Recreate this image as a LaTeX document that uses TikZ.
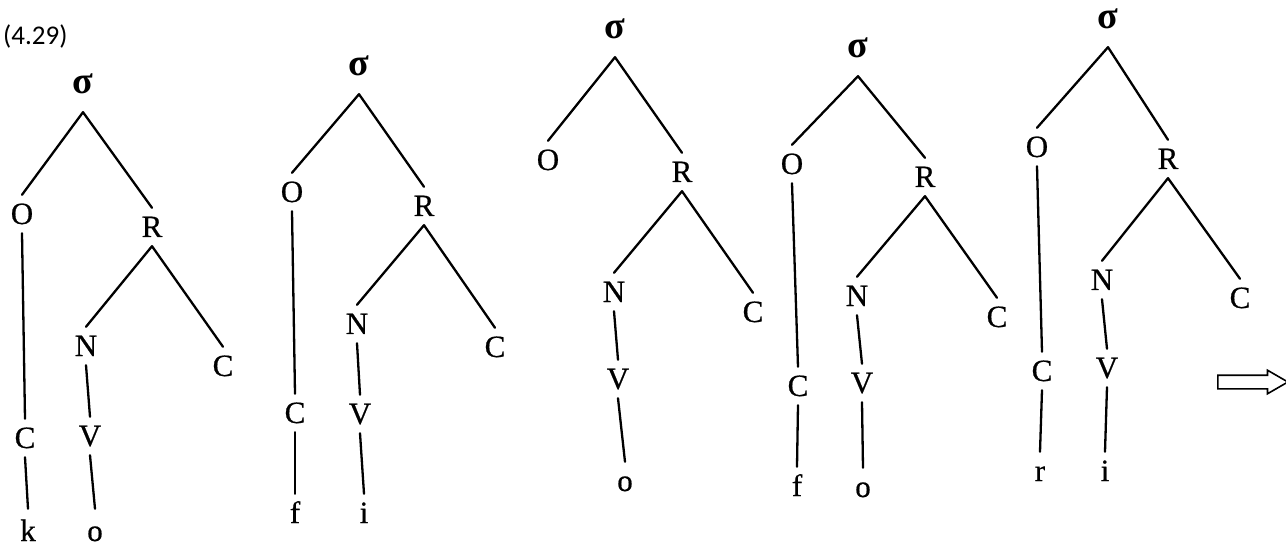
\documentclass[tikz,border=0pt]{standalone}
\usepackage{fontspec}
\setmainfont{Liberation Serif}
\newfontfamily\carl{Carlito}
\newfontfamily\segfam{Liberation Serif}[FakeBold=0.6]
\usetikzlibrary{shapes.arrows}
\newcommand\segfont{\segfam\fontsize{31}{33}\selectfont}
\newcommand\sigfont{\fontsize{38}{40}\selectfont\bfseries}
\tikzset{
  seg/.style={font=\segfont, text height=20pt, text depth=0pt, inner xsep=3pt, inner ysep=9pt},
  sig/.style={font=\sigfont, text height=18pt, text depth=0pt, inner xsep=2pt, inner ysep=18pt},
  br/.style={line width=2.3pt, line cap=round},
  bigarrow/.style={single arrow, draw, line width=1.6pt, minimum height=70pt, inner xsep=0pt, inner ysep=6pt,
    single arrow head extend=5pt, single arrow head indent=0pt, single arrow tip angle=60}
}
\begin{document}
\begin{tikzpicture}[x=1pt, y=-1pt]
\fill[white] (0,0) rectangle (1286,548);
\useasboundingbox (0,0) rectangle (1286,548);

\node[font=\carl\fontsize{27}{29}\selectfont, anchor=base west, inner sep=0pt] (num) at (3,45) {(4.29)};

% ---- tree 1: k o
\node[sig] (s1) at (83,85) {σ};
\node[seg] (o1) at (22,214) {O};
\node[seg] (r1) at (152,227) {R};
\node[seg] (n1) at (86,346) {N};
\node[seg] (cc1) at (223,366) {C};
\node[seg] (co1) at (25,438) {C};
\node[seg] (v1) at (90,436) {V};
\node[seg, inner ysep=6pt] (x1) at (28,531) {k};
\node[seg, inner ysep=6pt] (y1) at (95,531) {o};
\draw[br] (s1.south) -- (o1.north);
\draw[br] (s1.south) -- (r1.north);
\draw[br] (o1.south) -- (co1.north);
\draw[br] (r1.south) -- (n1.north);
\draw[br] (r1.south) -- (cc1.north);
\draw[br] (n1.south) -- (v1.north);
\draw[br] (co1.south) -- ([yshift=6pt]x1.north);
\draw[br] (v1.south) -- ([yshift=6pt]y1.north);

% ---- tree 2: f i
\node[sig] (s2) at (359,67) {σ};
\node[seg] (o2) at (292,192) {O};
\node[seg] (r2) at (424,206) {R};
\node[seg] (n2) at (357,324) {N};
\node[seg] (cc2) at (495,347) {C};
\node[seg] (co2) at (295,413) {C};
\node[seg] (v2) at (360,414) {V};
\node[seg] (x2) at (295,513) {f};
\node[seg] (y2) at (364,513) {i};
\draw[br] (s2.south) -- (o2.north);
\draw[br] (s2.south) -- (r2.north);
\draw[br] (o2.south) -- (co2.north);
\draw[br] (r2.south) -- (n2.north);
\draw[br] (r2.south) -- (cc2.north);
\draw[br] (n2.south) -- (v2.north);
\draw[br] (co2.south) -- (x2.north);
\draw[br] (v2.south) -- (y2.north);

% ---- tree 3: o
\node[sig] (s3) at (615,30) {σ};
\node[seg] (o3) at (548,160) {O};
\node[seg] (r3) at (682,172) {R};
\node[seg] (n3) at (614,292) {N};
\node[seg] (cc3) at (753,312) {C};
\node[seg] (v3) at (618,379) {V};
\node[seg] (y3) at (625,481) {o};
\draw[br] (s3.south) -- (o3.north);
\draw[br] (s3.south) -- (r3.north);
\draw[br] (r3.south) -- (n3.north);
\draw[br] (r3.south) -- (cc3.north);
\draw[br] (n3.south) -- (v3.north);
\draw[br] (v3.south) -- (y3.north);

% ---- tree 4: f o
\node[sig] (s4) at (858,49) {σ};
\node[seg] (o4) at (792,164) {O};
\node[seg] (r4) at (925,177) {R};
\node[seg] (n4) at (857,296) {N};
\node[seg] (cc4) at (997,317) {C};
\node[seg] (co4) at (798,386) {C};
\node[seg] (v4) at (862,383) {V};
\node[seg] (x4) at (797,486) {f};
\node[seg] (y4) at (863,487) {o};
\draw[br] (s4.south) -- (o4.north);
\draw[br] (s4.south) -- (r4.north);
\draw[br] (o4.south) -- (co4.north);
\draw[br] (r4.south) -- (n4.north);
\draw[br] (r4.south) -- (cc4.north);
\draw[br] (n4.south) -- (v4.north);
\draw[br] (co4.south) -- (x4.north);
\draw[br] (v4.south) -- (y4.north);

% ---- tree 5: r i
\node[sig] (s5) at (1108,20) {σ};
\node[seg] (o5) at (1037,147) {O};
\node[seg] (r5) at (1168,159) {R};
\node[seg] (n5) at (1102,280) {N};
\node[seg] (cc5) at (1240,298) {C};
\node[seg] (co5) at (1042,371) {C};
\node[seg] (v5) at (1107,368) {V};
\node[seg] (x5) at (1040,471) {r};
\node[seg] (y5) at (1105,471) {i};
\draw[br] (s5.south) -- (o5.north);
\draw[br] (s5.south) -- (r5.north);
\draw[br] (o5.south) -- (co5.north);
\draw[br] (r5.south) -- (n5.north);
\draw[br] (r5.south) -- (cc5.north);
\draw[br] (n5.south) -- (v5.north);
\draw[br] (co5.south) -- (x5.north);
\draw[br] (v5.south) -- (y5.north);

% ---- arrow
\node[bigarrow] (arr) at (1247,382) {};
\end{tikzpicture}
\end{document}
